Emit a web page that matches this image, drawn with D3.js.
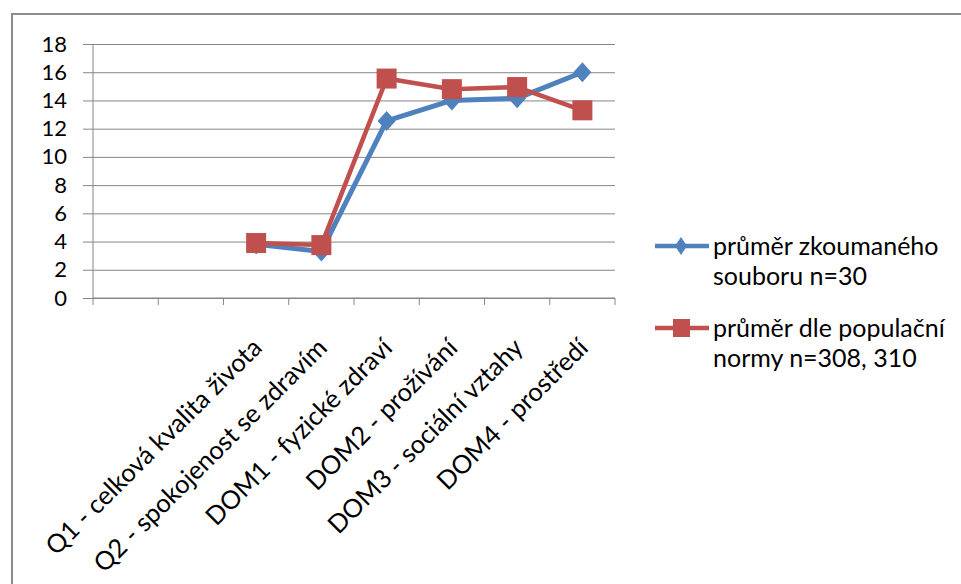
<!DOCTYPE html>
<html>
<head>
<meta charset="utf-8">
<script src="https://cdn.jsdelivr.net/npm/d3@7"></script>
<style>
  html, body { margin: 0; padding: 0; background: #fff; }
  svg { display: block; }
  text { font-family: Lato, "Open Sans", sans-serif; fill: #000; }
</style>
</head>
<body>
<svg id="chart" width="961" height="584"></svg>
<script>
// Category slots on the x axis (two leading slots are left blank)
const categories = ["", "", "Q1 - celková kvalita života", "Q2 - spokojenost se zdravím",
  "DOM1 - fyzické zdraví", "DOM2 - prožívání", "DOM3 - sociální vztahy", "DOM4 - prostředí"];

const seriesNames = ["průměr zkoumaného souboru n=30", "průměr dle populační normy n=308, 310"];
const legendLines = [["průměr zkoumaného", "souboru n=30"], ["průměr dle populační", "normy n=308, 310"]];

// Mean values per category (null = no value)
const sampleMeans = [null, null, 3.8, 3.3, 12.55, 14.0, 14.15, 16.0];
const normMeans   = [null, null, 3.9, 3.75, 15.55, 14.8, 14.95, 13.3];

const yTicks = [0, 2, 4, 6, 8, 10, 12, 14, 16, 18];
const colors = ["#4F81BD", "#C0504D"];

const svg = d3.select("#chart");

// outer frame
svg.append("rect").attr("x", 12).attr("y", 14).attr("width", 980).attr("height", 620)
  .attr("fill", "none").attr("stroke", "#8c8c8c").attr("stroke-width", 2);

const plotL = 93, plotR = 615, plotT = 44, plotB = 298;

const x = d3.scaleBand().domain(d3.range(categories.length)).range([plotL, plotR]);
const y = d3.scaleLinear().domain([0, 18]).range([plotB, plotT]);

// horizontal gridlines with small outside ticks
const yAxis = d3.axisLeft(y).tickValues(yTicks).tickSize(-(plotR - plotL)).tickPadding(26);
const gy = svg.append("g").attr("transform", `translate(${plotL},0)`).call(yAxis);
gy.select(".domain").remove();
gy.selectAll(".tick line").attr("x1", -10).attr("stroke", "#868686").attr("stroke-width", 1);
gy.selectAll(".tick text").attr("font-size", 22).attr("font-family", "Lato, sans-serif").attr("fill", "#000");

// vertical axis line
svg.append("line").attr("x1", plotL).attr("x2", plotL).attr("y1", plotT).attr("y2", plotB)
  .attr("stroke", "#868686").attr("stroke-width", 1);

// category axis with ticks at slot boundaries
svg.append("line").attr("x1", plotL).attr("x2", plotR).attr("y1", plotB).attr("y2", plotB)
  .attr("stroke", "#868686").attr("stroke-width", 1);
const bounds = d3.range(categories.length + 1).map(i => plotL + i * x.step());
svg.append("g").selectAll("line").data(bounds).join("line")
  .attr("x1", d => d).attr("x2", d => d).attr("y1", plotB).attr("y2", plotB + 7)
  .attr("stroke", "#868686").attr("stroke-width", 1);

// rotated category labels
svg.append("g").selectAll("text").data(categories.map((c, i) => ({c, i})).filter(d => d.c))
  .join("text")
  .attr("transform", d => `translate(${x(d.i) + x.bandwidth() / 2 + 1},${plotB + 45}) rotate(-45)`)
  .attr("text-anchor", "end")
  .attr("dy", "0.35em")
  .attr("font-size", 25.5)
  .text(d => d.c);

const cx = i => x(i) + x.bandwidth() / 2;
const line = d3.line().defined(d => d.v !== null).x(d => cx(d.i)).y(d => y(d.v));

const data = [sampleMeans, normMeans].map(arr => arr.map((v, i) => ({v, i})));

// sample series: line + diamonds
svg.append("path").datum(data[0]).attr("d", line)
  .attr("fill", "none").attr("stroke", colors[0]).attr("stroke-width", 5).attr("stroke-linejoin", "round");
svg.append("g").selectAll("path").data(data[0].filter(d => d.v !== null)).join("path")
  .attr("d", "M0,-10L9,0L0,10L-9,0Z")
  .attr("transform", d => `translate(${cx(d.i)},${y(d.v)})`)
  .attr("fill", colors[0]);

// population norm series: line + squares
svg.append("path").datum(data[1]).attr("d", line)
  .attr("fill", "none").attr("stroke", colors[1]).attr("stroke-width", 4.5).attr("stroke-linejoin", "round");
svg.append("g").selectAll("rect").data(data[1].filter(d => d.v !== null)).join("rect")
  .attr("x", d => cx(d.i) - 10).attr("y", d => y(d.v) - 10)
  .attr("width", 20).attr("height", 20)
  .attr("fill", colors[1]);

// legend
const legendY = [246, 328];
const lg = svg.append("g");
legendY.forEach((ly, k) => {
  lg.append("line").attr("x1", 655).attr("x2", 709).attr("y1", ly).attr("y2", ly)
    .attr("stroke", colors[k]).attr("stroke-width", 4.5);
  if (k === 0) {
    lg.append("path").attr("d", "M0,-9L6,0L0,9L-6,0Z")
      .attr("transform", `translate(681,${ly})`).attr("fill", colors[0]);
  } else {
    lg.append("rect").attr("x", 673).attr("y", ly - 9).attr("width", 17).attr("height", 18)
      .attr("fill", colors[1]);
  }
  const t = lg.append("text").attr("x", 713).attr("y", ly + 9).attr("font-size", 25);
  legendLines[k].forEach((s, j) => {
    t.append("tspan").attr("x", 713).attr("dy", j === 0 ? 0 : 30).text(s);
  });
});
</script>
</body>
</html>
